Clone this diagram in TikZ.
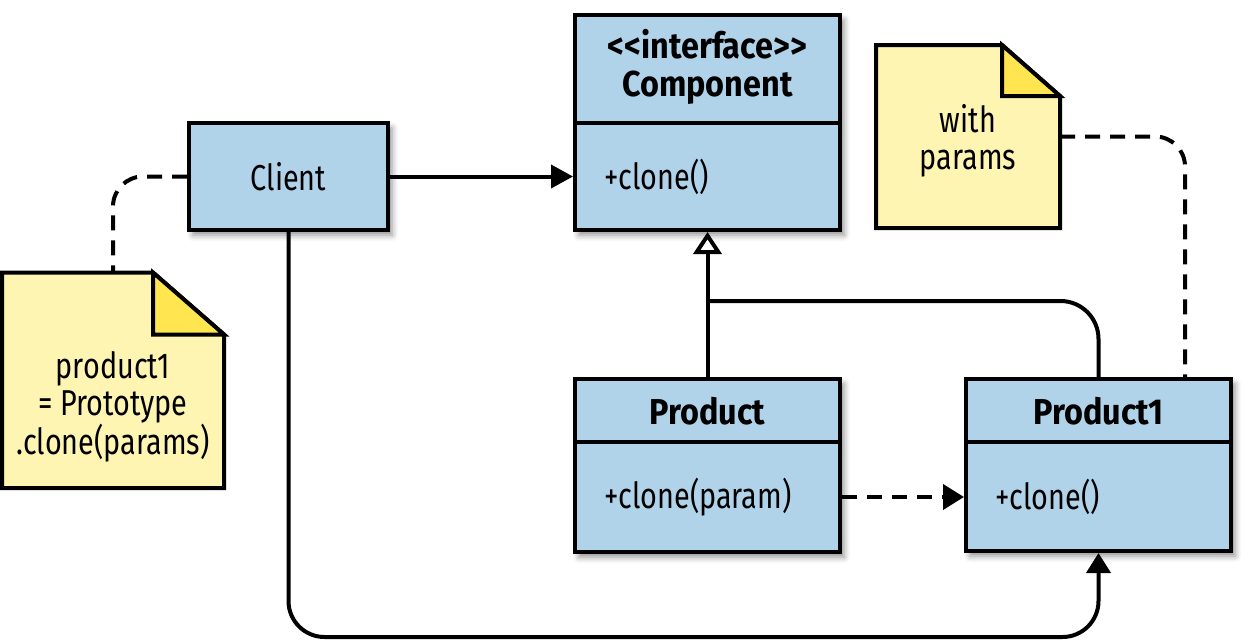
\documentclass[tikz,border=0pt]{standalone}
\usepackage{fontspec}
\setmainfont{Fira Sans}[FakeStretch=0.8]
\newfontfamily\titlefont{Fira Sans}[FakeStretch=0.9]
\usetikzlibrary{arrows.meta,shadows.blur}
\definecolor{umlblue}{RGB}{177,211,234}
\definecolor{noteyellow}{RGB}{255,245,178}
\definecolor{foldyellow}{RGB}{255,229,80}
\tikzset{
  cls/.style={draw, line width=4pt, fill=umlblue, inner sep=0pt,
    blur shadow={shadow xshift=4pt, shadow yshift=-5pt, shadow blur radius=6pt, shadow opacity=45}},
  divider/.style={line width=4pt},
  conn/.style={line width=4pt},
  dsh/.style={line width=4pt, dash pattern=on 15pt off 10pt},
  notebox/.style={inner sep=0pt, outer sep=0pt},
  noteshape/.style={line width=4pt, fill=noteyellow, line join=miter},
  foldshape/.style={line width=4pt, fill=foldyellow, line join=miter},
  txt/.style={inner sep=0pt, align=center},
  ttl/.style={inner sep=0pt, align=center, font=\fontsize{36}{38}\selectfont\titlefont\bfseries},
  bigtip/.style={-{Triangle[length=22pt,width=23pt]}},
  opentip/.style={-{Triangle[open,length=22pt,width=28pt,fill=white]}}
}
\begin{document}
\begin{tikzpicture}[x=1pt,y=-1pt,font=\fontsize{36}{37.5}\selectfont]
\useasboundingbox (0,0) rectangle (1259,643);
% class boxes
\node[cls, minimum width=199pt, minimum height=107pt] (client) at (288.5,176.5) {};
\node[txt] (clienttxt) at (288.5,177) {Client};
\node[cls, minimum width=265pt, minimum height=215pt] (comp) at (707.5,122.5) {};
\draw[divider] (comp.west |- 0,123) -- (comp.east |- 0,123);
\node[ttl] (comptitle) at (707.5,67) {<{}<interface>{}>\\Component};
\node[txt, anchor=west] (compop) at (604,177) {+clone()};
\node[cls, minimum width=265pt, minimum height=173pt] (prod) at (707.5,465.5) {};
\draw[divider] (prod.west |- 0,442) -- (prod.east |- 0,442);
\node[ttl] (prodtitle) at (707.5,411) {Product};
\node[txt, anchor=west] (prodop) at (604,497) {+clone(param)};
\node[cls, minimum width=265pt, minimum height=172pt] (p1) at (1098.5,465) {};
\draw[divider] (p1.west |- 0,442) -- (p1.east |- 0,442);
\node[ttl] (p1title) at (1098.5,411) {Product1};
\node[txt, anchor=west] (p1op) at (995,497) {+clone()};
% notes
\node[notebox, minimum width=222pt, minimum height=215.5pt] (note1) at (113,380.25) {};
\filldraw[noteshape] (note1.north west) -- ([xshift=-71pt]note1.north east) -- ([yshift=-62pt]note1.north east) -- (note1.south east) -- (note1.south west) -- cycle;
\filldraw[foldshape] ([xshift=-71pt]note1.north east) -- ([xshift=-71pt,yshift=-62pt]note1.north east) -- ([yshift=-62pt]note1.north east) -- cycle;
\node[txt] (note1txt) at (113,407) {product1\\= Prototype\\.clone(params)};
\node[notebox, minimum width=184pt, minimum height=183pt] (note2) at (968,136.5) {};
\filldraw[noteshape] (note2.north west) -- ([xshift=-58pt]note2.north east) -- ([yshift=-51pt]note2.north east) -- (note2.south east) -- (note2.south west) -- cycle;
\filldraw[foldshape] ([xshift=-58pt]note2.north east) -- ([xshift=-58pt,yshift=-51pt]note2.north east) -- ([yshift=-51pt]note2.north east) -- cycle;
\node[txt] (note2txt) at (968,141) {with\\params};
% connectors
\draw[conn, bigtip] (client.east) -- (comp.west |- client.east);
\draw[dsh, rounded corners=30pt] (client.west) -| (note1.north);
\draw[conn, -{Triangle[length=20pt,width=24pt]}, rounded corners=36pt] (client.south) |- (700,637) -| (p1.south);
\draw[conn, opentip] (prod.north) -- (comp.south);
\coordinate (junction) at (prod.north |- 0,301);
\draw[conn, rounded corners=38pt] (junction) -| (p1.north);
\coordinate (pstart) at (prod.east |- 0,497);
\coordinate (pend) at (p1.west |- 0,497);
\draw[dsh, -{Triangle[length=21pt,width=25pt]}] (pstart) -- (pend);
\coordinate (n2end) at ([xshift=86.5pt]p1.north);
\draw[dsh, rounded corners=30pt] (note2.east) -| (n2end);
\end{tikzpicture}
\end{document}
